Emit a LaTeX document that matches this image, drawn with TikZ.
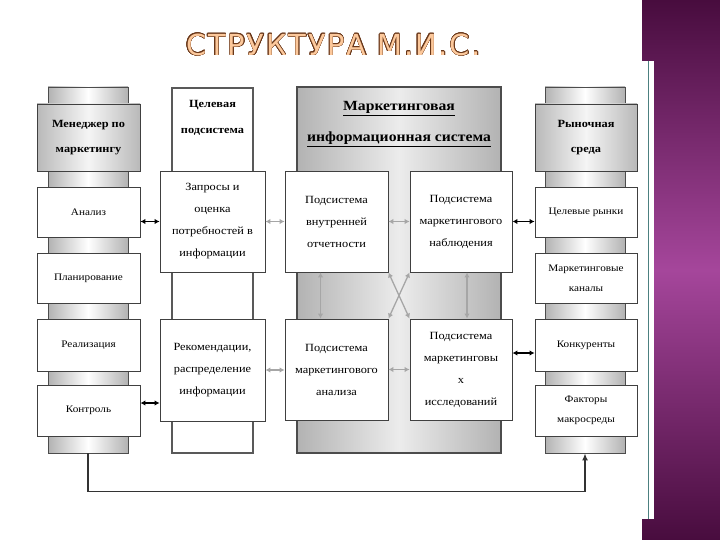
\documentclass[tikz,border=0pt]{standalone}
\usepackage{fontspec}
\setmainfont[FakeStretch=1.12]{Liberation Serif}
\newfontfamily\titlefont[LetterSpace=6]{DejaVu Sans}
\usepackage[copies]{contour}
\usetikzlibrary{shadows,arrows.meta,calc}
\definecolor{purpD}{RGB}{72,12,62}
\definecolor{purpM}{RGB}{165,70,155}
\definecolor{ttlfill}{RGB}{252,200,155}
\definecolor{ttlline}{RGB}{105,55,25}
\contourlength{0.55pt}
\tikzset{
  shad/.style={drop shadow={shadow xshift=1.3pt, shadow yshift=-1.3pt, fill=black!60, opacity=1}},
  wbox/.style={draw=black!75, line width=0.9pt, fill=white, shad, inner sep=1pt, align=center,
               font=\fontsize{10}{20}\selectfont},
  cbox/.style={wbox, font=\fontsize{11}{22}\selectfont},
  hdr/.style={draw=black!75, line width=0.9pt, left color=gray!55, right color=gray!55, middle color=gray!8,
              shad, inner sep=1pt, align=center, font=\bfseries\fontsize{11}{25}\selectfont},
  barbox/.style={draw=black!70, line width=0.8pt, left color=gray!60, right color=gray!60, middle color=white, inner sep=0pt},
  barr/.style={{Latex[length=5pt,width=5.5pt]}-{Latex[length=5pt,width=5.5pt]}, line width=1.3pt, black},
  garr/.style={{Latex[length=5pt,width=5.5pt]}-{Latex[length=5pt,width=5.5pt]}, line width=1.3pt, gray!70},
}
\begin{document}
\begin{tikzpicture}[x=1pt, y=-1pt]
\useasboundingbox (0,0) rectangle (720,540);
\fill[white] (0,0) rectangle (720,540);
\shade[top color=purpD, bottom color=purpD, middle color=purpM] (642,0) rectangle (720,540);
\fill[white] (642,61) rectangle (654,519);
\draw[teal!40!gray, line width=0.6pt] (648,61) -- (648,519);

% title
\node[text=ttlfill, font=\titlefont\fontsize{29}{30}\selectfont, inner sep=0pt] (ttl) at (333.5,45)
  {\contour{ttlline}{СТРУКТУРА М.И.С.}};

% background bars
\node[barbox, minimum width=80, minimum height=366] (lbar) at (88,270) {};
\node[barbox, minimum width=80, minimum height=366] (rbar) at (585,270) {};

% target subsystem outer box
\node[draw=gray!70!black, line width=1.2pt, fill=white, minimum width=81, minimum height=365, inner sep=0pt] (tsub) at (212.5,270.5) {};
\node[font=\bfseries\fontsize{11}{26}\selectfont, align=center] (tsubt) at (212.5,118) {Целевая\\подсистема};

% MIS outer box
\node[draw=black!70, line width=1.2pt, left color=gray!60, right color=gray!60, middle color=gray!15, minimum width=204, minimum height=366, inner sep=0pt] (mis) at (399,270) {};
\node[font=\bfseries\fontsize{14}{31}\selectfont, align=center] (mist) at (399,124) {\underline{Маркетинговая}\\\underline{информационная система}};

% left column
\node[hdr, minimum width=103, minimum height=67] (mgr) at (88.5,137.5) {Менеджер по\\маркетингу};
\node[wbox, minimum width=103, minimum height=50] (an) at (88.5,212) {Анализ};
\node[wbox, minimum width=103, minimum height=50] (pl) at (88.5,278) {Планирование};
\node[wbox, minimum width=103, minimum height=52] (re) at (88.5,345) {Реализация};
\node[wbox, minimum width=103, minimum height=51] (ko) at (88.5,410.5) {Контроль};

% right column
\node[hdr, minimum width=102, minimum height=67] (rs) at (586,137.5) {Рыночная\\среда};
\node[wbox, minimum width=102, minimum height=50] (cr) at (586,212) {Целевые рынки};
\node[wbox, minimum width=102, minimum height=50] (mk) at (586,278) {Маркетинговые\\каналы};
\node[wbox, minimum width=102, minimum height=52] (kn) at (586,345) {Конкуренты};
\node[wbox, minimum width=102, minimum height=51] (fm) at (586,410.5) {Факторы\\макросреды};

% target subsystem boxes
\node[cbox, minimum width=105, minimum height=101] (zap) at (212.5,221.5) {Запросы и\\оценка\\потребностей в\\информации};
\node[cbox, minimum width=105, minimum height=102] (rec) at (212.5,370) {Рекомендации,\\распределение\\информации};

% MIS boxes
\node[cbox, minimum width=103, minimum height=101] (vn) at (336.5,221.5) {Подсистема\\внутренней\\отчетности};
\node[cbox, minimum width=102, minimum height=101] (nab) at (461,221.5) {Подсистема\\маркетингового\\наблюдения};
\node[cbox, minimum width=103, minimum height=101] (an2) at (336.5,369.5) {Подсистема\\маркетингового\\анализа};
\node[cbox, minimum width=102, minimum height=101] (iss) at (461,369.5) {Подсистема\\маркетинговы\\х\\исследований};

% black arrows
\draw[barr] (an.east |- zap.west) -- (zap.west);
\coordinate (kc) at ($(ko.east)+(0,-7.5)$);
\draw[barr] (kc) -- (kc -| rec.west);
\draw[barr] (nab.east) -- (nab.east -| cr.west);
\coordinate (kr) at ($(kn.west)+(0,8)$);
\draw[barr] (kr -| iss.east) -- (kr);

% gray arrows
\draw[garr] (zap.east) -- (vn.west);
\draw[garr] (rec.east) -- (rec.east -| an2.west);
\draw[garr] (vn.east) -- (nab.west);
\draw[garr] (an2.east) -- (iss.west);
\draw[garr] ($(vn.south)+(-16,0)$) -- ($(an2.north)+(-16,0)$);
\draw[garr] ($(nab.south)+(6,0)$) -- ($(iss.north)+(6,0)$);
\draw[garr] (vn.south east) -- (iss.north west);
\draw[garr] (nab.south west) -- (an2.north east);

% feedback
\draw[line width=1.6pt, gray!40!black, -{Latex[length=7pt,width=6pt]}] (lbar.south) -- ++(0,38) -| (rbar.south);
\end{tikzpicture}
\end{document}
